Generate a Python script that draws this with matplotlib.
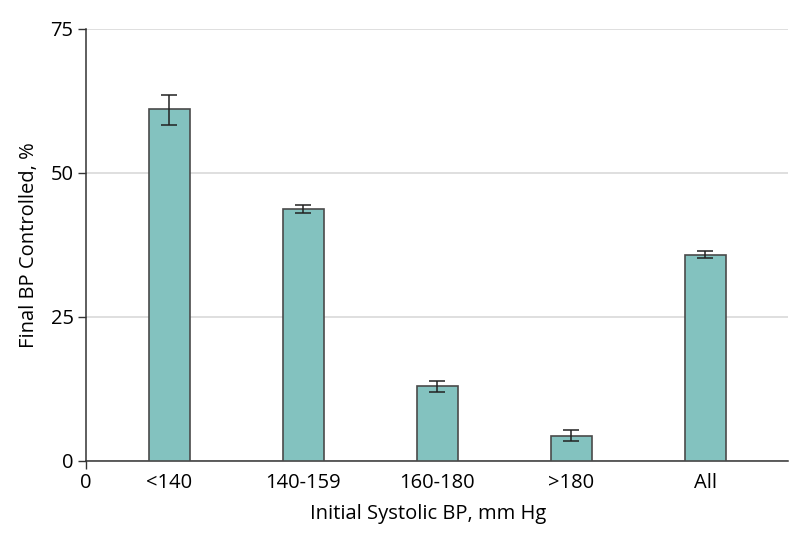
import matplotlib
matplotlib.use("Agg")
import matplotlib.pyplot as plt
import numpy as np

categories = ["<140", "140-159", "160-180", ">180", "All"]
values = [61.1, 43.8, 13.0, 4.3, 35.8]
err_low = [2.8, 0.8, 1.1, 0.9, 0.6]
err_high = [2.4, 0.6, 0.9, 1.0, 0.6]
yticks = [0, 25, 50, 75]

plt.rcParams['font.family'] = ['Open Sans', 'DejaVu Sans']

fig = plt.figure(figsize=(7.98, 5.46), dpi=100)
ax = fig.add_axes([86/798, 85/546, 702/798, 432/546])

x = np.arange(len(categories))
ax.bar(x, values, width=0.306, color="#83c2bf", edgecolor="#4a4a4a", linewidth=1.2, zorder=3)
ax.errorbar(x, values, yerr=[err_low, err_high], fmt="none", ecolor="#222222",
            elinewidth=1.1, capsize=6, capthick=1.1, zorder=4)

x0 = -0.623
ax.set_xlim(x0, 4.616)
ax.set_ylim(0, 75)
ax.set_yticks(yticks)
ax.set_yticklabels([str(v) for v in yticks], fontsize=14.5)
ax.set_xticks([x0] + list(x))
ax.set_xticklabels(["0"] + categories, fontsize=14.5)
ticks = ax.xaxis.get_major_ticks()
for i, t in enumerate(ticks):
    if i > 0:
        t.tick1line.set_visible(False)
ax.tick_params(axis="both", length=6, width=1, color="#333333", pad=3)

ax.grid(axis="y", color="#d9d9d9", linewidth=1.2, zorder=0)
ax.set_axisbelow(True)
for s in ["top", "right"]:
    ax.spines[s].set_visible(False)
for s in ["left", "bottom"]:
    ax.spines[s].set_color("#333333")
    ax.spines[s].set_linewidth(1.1)

ax.set_xlabel("Initial Systolic BP, mm Hg", fontsize=14.5, labelpad=8)
ax.xaxis.set_label_coords((428 - 86) / 702, -0.10)
ax.set_ylabel("Final BP Controlled, %", fontsize=14.5, labelpad=8)

fig.savefig("out.png", dpi=100)
